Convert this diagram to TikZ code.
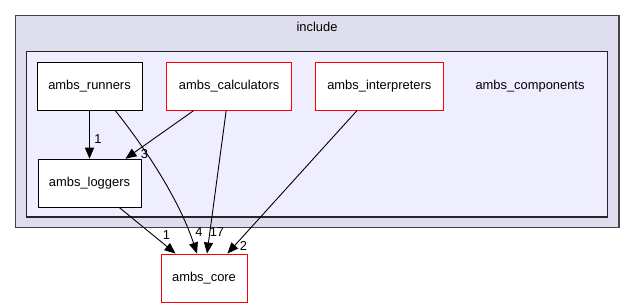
\documentclass[tikz,border=0pt]{standalone}
\usepackage{fontspec}
\setmainfont{Liberation Sans}
\usetikzlibrary{positioning, arrows.meta}
\definecolor{outerfill}{RGB}{221,221,238}
\definecolor{innerfill}{RGB}{238,238,255}
\definecolor{framegray}{RGB}{68,68,68}

\begin{document}
\begin{tikzpicture}[x=1pt, y=1pt, font=\fontsize{12.9}{15}\selectfont, >={Triangle[length=11pt, width=9pt]}, line width=0.9pt]
			\useasboundingbox (0,0) rectangle (635,308);
			% Draw the two folders
			\draw [draw=framegray, fill=outerfill, line width=1.4pt] (15.7,80.3) rectangle (619,292.3);
			\draw [draw=black!85, fill=innerfill, line width=1.1pt] (26.7,91) rectangle (607.7,256.3);
			\node (include) at (317,281) {include};
			\node (components) at (530,222) {ambs\_components};
			% Define the nodes
			\node (runners) [rectangle, draw, fill=white, minimum width=105pt, minimum height=48pt] at (89.5,221.7) {ambs\_runners};
			\node (calculators) [rectangle, draw=red, fill=white, minimum width=124.5pt, minimum height=48pt, right=24pt of runners] {ambs\_calculators};
			\node (interpreters) [rectangle, draw=red, fill=white, minimum width=128pt, minimum height=48pt, right=23pt of calculators] {ambs\_interpreters};
			\node (loggers) [rectangle, draw, fill=white, minimum width=103pt, minimum height=48pt, below=48pt of runners] {ambs\_loggers};
			\node (core) [rectangle, draw=red, fill=white, minimum width=86pt, minimum height=48pt] at (204,30) {ambs\_core};
			% Connect the nodes
			\draw [->] (runners) -- (loggers) node [pos=0.59, right=1pt] {1};
			\draw [->] ([xshift=27pt]calculators.south west) -- ([xshift=-16pt]loggers.north east) node [at end, xshift=19pt, yshift=5pt] {3};
			\draw [->] ([xshift=-22pt]loggers.south east) -- ([xshift=15pt]core.north west) node [at end, xshift=-9pt, yshift=18pt] {1};
			\draw [->] ([xshift=-27pt]runners.south east) .. controls +(38,-48) and +(-16,48) .. ([xshift=-7pt]core.north) node [at end, xshift=2pt, yshift=21pt] {4};
			\draw [->] ([xshift=-3pt]calculators.south) -- ([xshift=3pt]core.north) node [at end, xshift=10pt, yshift=21pt] {17};
			\draw [->] ([xshift=42pt]interpreters.south west) -- ([xshift=-20pt]core.north east) node [at end, xshift=16pt, yshift=8pt] {2};
		\end{tikzpicture}
\end{document}
